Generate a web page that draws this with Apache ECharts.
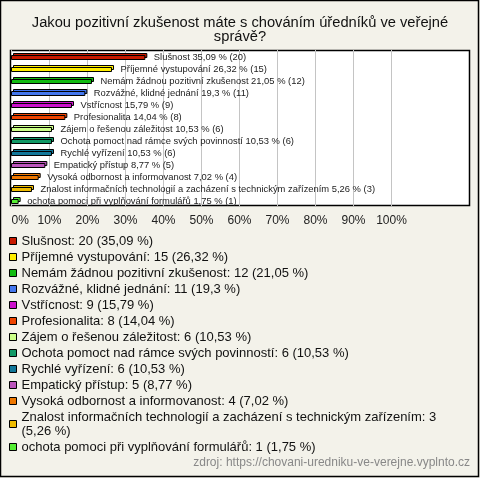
<!DOCTYPE html>
<html>
<head>
<meta charset="utf-8">
<script src="https://cdn.jsdelivr.net/npm/echarts@6/dist/echarts.min.js"></script>
<style>
  html, body { margin: 0; padding: 0; background: #f3f2ea; }
  #chart { width: 480px; height: 478px; }
</style>
</head>
<body>
<div id="chart"></div>
<script>
// kategorie odpovědí
const barNames = [
  "Slušnost", "Příjemné vystupování", "Nemám žádnou pozitivní zkušenost",
  "Rozvážné, klidné jednání", "Vstřícnost", "Profesionalita",
  "Zájem o řešenou záležitost", "Ochota pomoct nad rámce svých povinností",
  "Rychlé vyřízení", "Empatický přístup", "Vysoká odbornost a informovanost",
  "Znalost informačních technologií a zacházení s technickým zařízením",
  "ochota pomoci při vyplňování formulářů"
];
const counts = [20, 15, 12, 11, 9, 8, 6, 6, 6, 5, 4, 3, 1];
const percents = [35.09, 26.32, 21.05, 19.3, 15.79, 14.04, 10.53, 10.53, 10.53, 8.77, 7.02, 5.26, 1.75];
const colors = [
  "#c81a00", "#ffee00", "#11bb11", "#4477ee", "#cc11cc", "#ee4400", "#ccff88",
  "#119966", "#117799", "#bb55bb", "#ee7700", "#eebb00", "#55ee33"
];

const fmtPct = v => String(v).replace(".", ",") + " %";

const legendFont = '13px "Liberation Sans"';
const measureCtx = document.createElement("canvas").getContext("2d");
measureCtx.font = legendFont;

const chart = echarts.init(document.getElementById("chart"));

function renderBar(params, api) {
  const idx = api.value(1);
  const start = api.coord([0, idx]);
  const end = api.coord([api.value(0), idx]);
  const yc = Math.round(end[1]);
  const w = end[0] - start[0];
  const color = api.visual("color");
  const i = params.seriesIndex;
  return {
    type: "group",
    children: [
      { type: "rect", shape: { x: start[0] + 2, y: yc - 2.5, width: w, height: 4 },
        style: { fill: color, stroke: "#000", lineWidth: 1 } },
      { type: "rect", shape: { x: start[0], y: yc - 0.5, width: w, height: 4 },
        style: { fill: color, stroke: "#000", lineWidth: 1 } },
      { type: "text", x: end[0] + 9, y: yc + 1,
        style: { text: barNames[i] + " " + fmtPct(percents[i]) + " (" + counts[i] + ")",
                 fill: "#222", font: '9.4px "Liberation Sans"', verticalAlign: "middle" } }
    ]
  };
}

const series = barNames.map((name, i) => ({
  name: name,
  type: "custom",
  clip: false,
  itemStyle: { color: colors[i] },
  renderItem: renderBar,
  encode: { x: 0, y: 1 },
  data: [[percents[i], i, counts[i]]]
}));

const option = {
  backgroundColor: "#f3f2ea",
  animation: false,
  title: {
    text: "Jakou pozitivní zkušenost máte s chováním úředníků ve veřejné\nsprávě?",
    left: "center",
    top: 11,
    textStyle: { fontFamily: "Liberation Sans", fontSize: 14.7, fontWeight: "normal", color: "#111", lineHeight: 14 }
  },
  grid: { left: 11.5, top: 50, width: 380, height: 156 },
  xAxis: {
    type: "value",
    min: 0,
    max: 100,
    interval: 10,
    axisLine: { show: false },
    axisTick: { show: false },
    splitLine: { lineStyle: { color: "#c4c4c4", width: 1 } },
    axisLabel: {
      formatter: "{value}%",
      margin: 9,
      alignMinLabel: "left",
      fontFamily: "Liberation Sans",
      fontSize: 12,
      color: "#222"
    }
  },
  yAxis: {
    type: "category",
    inverse: true,
    data: barNames,
    show: false
  },
  legend: {
    orient: "vertical",
    left: 9,
    top: 234,
    padding: 0,
    selectedMode: false,
    icon: "rect",
    itemWidth: 7,
    itemHeight: 7,
    itemGap: 2,
    itemStyle: { borderColor: "#000", borderWidth: 1 },
    formatter: name => {
      const i = barNames.indexOf(name);
      const head = name + ": " + counts[i];
      const tail = "(" + fmtPct(percents[i]) + ")";
      // zalomit dlouhou položku jako v originálu
      if (measureCtx.measureText(head + " " + tail).width > 445) {
        return head + "\n" + tail;
      }
      return head + " " + tail;
    },
    textStyle: {
      fontFamily: "Liberation Sans",
      fontSize: 13,
      color: "#111",
      lineHeight: 14
    },
    data: barNames
  },
  graphic: [
    { type: "rect", z: -10, shape: { x: 10.5, y: 50.5, width: 459, height: 155 },
      style: { fill: "#fff", stroke: "#000", lineWidth: 1.5 } },
    { type: "rect", z: 100, shape: { x: 0.5, y: 0.5, width: 478, height: 476 },
      style: { fill: null, stroke: "#000", lineWidth: 1.5 } },
    { type: "text", right: 10, bottom: 9,
      style: { text: "zdroj: https://chovani-uredniku-ve-verejne.vyplnto.cz",
               fill: "#888", font: '12px "Liberation Sans"' } }
  ],
  series: series
};

chart.setOption(option);
</script>
</body>
</html>
